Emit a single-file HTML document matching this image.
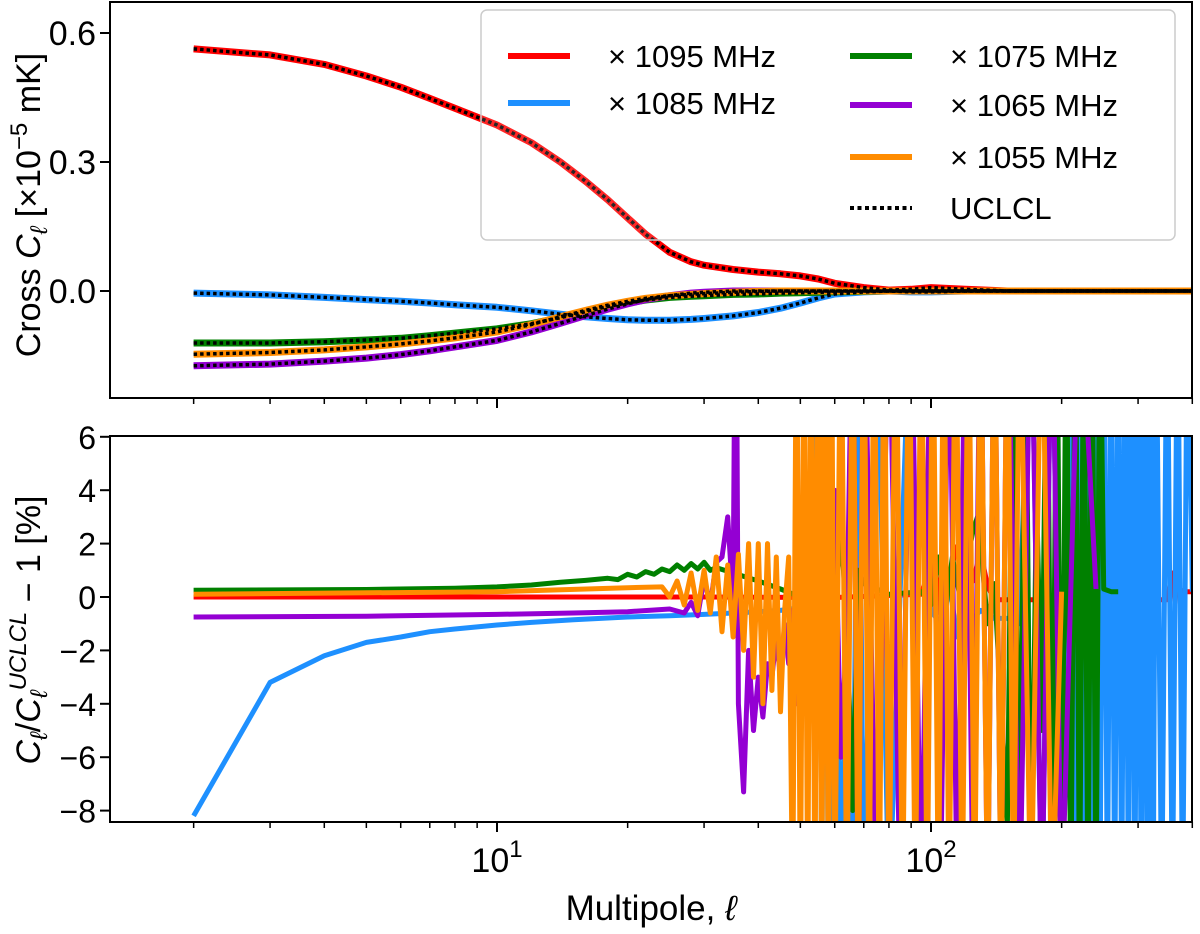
<!DOCTYPE html>
<html><head><meta charset="utf-8"><style>
body{margin:0;background:#fff;}
svg{display:block;font-family:"Liberation Sans","DejaVu Sans",sans-serif;}
</style></head><body>
<svg id="c" width="1200" height="934" viewBox="0 0 1200 934">
<defs>
<clipPath id="clipT"><rect x="110" y="2" width="1082" height="396"/></clipPath>
<clipPath id="clipB"><rect x="110" y="436" width="1082" height="386"/></clipPath>
</defs>
<g id="top" clip-path="url(#clipT)"></g>
<g id="bot" clip-path="url(#clipB)"></g>
<g id="axes"></g>
</svg>
<script>
// ---------- top panel data (units of 1e-5 mK) ----------
const topEll = [2,3,4,5,6,7,8,10,12,14,16,18,20,22,25,28,30,35,40,45,50,55,60,70,80,90,100,120,150,200,300,400];
const topRed = [0.563,0.549,0.527,0.50,0.474,0.448,0.425,0.386,0.345,0.300,0.255,0.212,0.170,0.132,0.090,0.068,0.060,0.050,0.044,0.040,0.035,0.028,0.018,0.008,0.002,0.004,0.008,0.004,0.0,0.0,0.0,0.0];
const topBlue = [-0.005,-0.009,-0.015,-0.02,-0.024,-0.028,-0.032,-0.038,-0.046,-0.054,-0.060,-0.064,-0.067,-0.068,-0.068,-0.066,-0.064,-0.058,-0.050,-0.040,-0.028,-0.016,-0.007,-0.002,0.0,-0.002,-0.002,0.0,0.0,0.0,0.0,0.0];
const topGreen = [-0.121,-0.121,-0.118,-0.114,-0.110,-0.104,-0.098,-0.088,-0.076,-0.062,-0.048,-0.036,-0.028,-0.021,-0.015,-0.012,-0.011,-0.008,-0.007,-0.005,-0.004,-0.003,-0.002,-0.001,0.0,0.0,0.0,0.0,0.0,0.0,0.0,0.0];
const topPurple = [-0.174,-0.170,-0.163,-0.156,-0.148,-0.139,-0.130,-0.115,-0.095,-0.075,-0.057,-0.042,-0.030,-0.020,-0.011,-0.005,-0.003,0.0,0.0,0.0,0.0,0.0,0.0,0.0,0.0,0.0,0.0,0.0,0.0,0.0,0.0,0.0];
const topOrange = [-0.147,-0.143,-0.137,-0.130,-0.123,-0.116,-0.109,-0.095,-0.078,-0.060,-0.045,-0.033,-0.024,-0.017,-0.011,-0.008,-0.006,-0.003,-0.001,0.0,0.0,0.0,0.0,0.0,0.0,0.0,0.0,0.0,0.0,0.0,0.0,0.0];
const topTicks = [0.0,0.3,0.6];
const topTickLabels = ["0.0","0.3","0.6"];

// ---------- bottom panel data (percent) ----------
const redEll = [2,10,30,60,95,100,103,106,110,115,120,125,130,135,140,150,160,350,360,365,370,375,380,400];
const redVal = [0.0,0.0,0.0,-0.02,0.1,1.3,-0.6,1.2,0.8,1.9,1.4,0.6,1.7,0.4,-0.1,-0.1,-0.1,-0.1,0.9,-0.2,0.9,0.3,0.2,0.2];
const blueEll = [2,3,4,5,6,7,8,10,12,15,20,25,30,35,40,45,50,52,54,55,56,57,58,60,62,64,66,68,70,75,80,90,100,105,110,115,120,125,130,140,150,160,170,180,190,200,210,215,220,225,230,235,240,245,250,255,260,265,270,275,280,285,290,295,300,305,310,315,320,325,330,340,350,360,370,380,390,400];
const blueVal = [-8.2,-3.2,-2.2,-1.7,-1.5,-1.3,-1.2,-1.05,-0.95,-0.85,-0.75,-0.7,-0.65,-0.6,-0.55,-0.5,-0.4,4.0,-3,12,-12,12,-12,-1,-9,-3,-12,12,-12,12,-12,12,-0.5,-1,0.5,-1.5,-0.6,-0.8,-0.5,-0.8,-0.8,-1,12,-12,12,-12,12,-12,12,-12,12,-12,12,-12,12,-12,12,-12,12,-12,12,-12,12,-12,12,-12,12,-12,12,-12,12,-12,12,-12,12,-12,12,0.2];
const greenEll = [2,5,8,10,12,14,16,18,19,20,21,22,23,24,25,26,27,28,29,30,31,32,35,40,45,50,55,60,62,64,66,68,70,80,95,100,104,108,112,116,120,125,128,130,132,135,140,150,155,160,165,170,175,180,185,190,195,200,205,210,215,220,225,230,235,240,245,250,260,270];
const greenVal = [0.25,0.28,0.33,0.38,0.45,0.55,0.62,0.7,0.65,0.85,0.75,0.95,0.85,1.05,0.95,1.2,1.0,1.25,1.05,1.3,1.0,1.1,0.9,0.6,0.3,0.0,-0.2,-0.5,2.5,-1,-8,1,0.5,0.1,0.2,-0.3,1.5,-0.5,1.5,0.2,1.0,2.5,3.0,2.5,0.8,-1.0,0.5,-8.5,12,-12,12,-12,4,-5,12,-12,12,-12,12,-12,12,-12,12,-12,12,-12,12,0.3,0.2,0.2];
const purpleEll = [2,5,10,15,20,25,27,28,29,30,31,32,33,34,35,35.5,36,37,38,39,40,41,42,43,44,45,46,47,48,49,50,52,54,56,58,60,62,64,66,68,70,75,80,85,90,95,100,105,110,115,120,125,130,135,140,145,150,160,170,180,190,200,220,240];
const purpleVal = [-0.75,-0.72,-0.65,-0.6,-0.55,-0.45,-0.6,-0.2,-0.7,0.7,-0.3,1.3,1.5,3.0,-0.2,15,-4,-7.3,-2,-5,-3,-4.5,-2.5,-3,-1.5,-3,-1,-2.5,-0.5,-4,2,-3,-4,5,-5,4,-6,-1,12,-12,12,-12,12,-12,12,-12,12,-12,12,-12,12,-12,12,-12,12,-12,12,-12,12,-12,12,-12,12,0.3];
const orangeEll = [2,10,20,24,25,26,27,28,29,30,31,32,33,34,35,36,37,38,39,40,41,42,43,44,45,46,47,48,49,50,51,52,53,54,55,56,57,58,59,60,62,64,66,68,70,72,74,76,78,80,83,86,89,92,95,98,101,104,107,110,114,118,122,126,130,135,140,145,150,155,160,170,180,190,200];
const orangeVal = [0.1,0.2,0.35,0.38,0.0,0.6,-0.3,0.9,-0.5,1.0,-0.6,1.5,-1.3,1.2,-1.5,1.6,-2.0,2.0,-3.0,2.0,-4.0,2.0,-3.5,1.5,-4.3,-0.5,1.5,-12,12,-12,12,-12,12,-12,12,-12,12,-12,12,-12,12,-12,12,-12,12,-12,12,-12,12,-12,12,-12,12,-12,12,-12,12,-12,12,-12,12,-12,12,-12,12,-12,12,-12,12,-12,12,-12,12,-12,0.2];
const botTicks = [-8,-6,-4,-2,0,2,4,6];
const botTickLabels = ["−8","−6","−4","−2","0","2","4","6"];

// ---------- scales ----------
const X0 = 110, X1 = 1192;
const sx = l => 497 + (Math.log10(l) - 1) * 434;
const syT = v => 291 - v * 430;
const syB = v => 597 - v * 26.7;
const NS = "http://www.w3.org/2000/svg";
function mk(tag, attrs, parent) {
  const e = document.createElementNS(NS, tag);
  for (const k in attrs) e.setAttribute(k, attrs[k]);
  parent.appendChild(e);
  return e;
}
function pathD(ell, vals, sy) {
  return ell.map((l, i) => (i ? "L" : "M") + sx(l).toFixed(1) + "," + sy(vals[i]).toFixed(1)).join("");
}
const gT = document.getElementById("top"), gB = document.getElementById("bot"), gA = document.getElementById("axes");

const topSeries = [["red","#ff0000",topRed],["blue","#1e90ff",topBlue],["green","#008000",topGreen],["purple","#9400d3",topPurple],["orange","#ff8c00",topOrange]];
topSeries.forEach(s => {
  const p = mk("path", {d: pathD(topEll, s[2], syT), fill: "none", stroke: s[1], "stroke-width": 7, "stroke-linejoin": "round"}, gT);
  
  
});
topSeries.forEach(s => {
  const p = mk("path", {d: pathD(topEll, s[2], syT), fill: "none", stroke: "#000", "stroke-width": 3.5, "stroke-dasharray": "3.5,3"}, gT);
  
  
});

const botSeries = [["red","#ff0000",redEll,redVal],["blue","#1e90ff",blueEll,blueVal],["green","#008000",greenEll,greenVal],["purple","#9400d3",purpleEll,purpleVal],["orange","#ff8c00",orangeEll,orangeVal]];
botSeries.forEach(s => {
  const p = mk("path", {d: pathD(s[2], s[3], syB), fill: "none", stroke: s[1], "stroke-width": 5, "stroke-linejoin": "round"}, gB);
  
  
});

// ---------- axes ----------
[[2,398],[436,822]].forEach((r, idx) => {
  const f = mk("rect", {x: X0, y: r[0], width: X1 - X0, height: r[1] - r[0], fill: "none", stroke: "#000", "stroke-width": 2}, gA);
  
  
  for (let d = 1; d <= 100; d *= 10) for (let m = 1; m <= 9; m++) {
    const l = d * m; if (l < 1.3 || l > 400) continue;
    const major = m === 1;
    const t = mk("line", {x1: sx(l), x2: sx(l), y1: r[1], y2: r[1] + (major ? 10 : 6), stroke: "#000", "stroke-width": major ? 2 : 1.5}, gA);
    
    
  }
});
topTicks.forEach((v, i) => {
  const t = mk("line", {x1: X0 - 10, x2: X0, y1: syT(v), y2: syT(v), stroke: "#000", "stroke-width": 2}, gA);
  
  
  const tx = mk("text", {x: X0 - 14, y: syT(v) + 12, "text-anchor": "end", "font-size": 34}, gA);
  tx.textContent = topTickLabels[i];
  
  
});
botTicks.forEach((v, i) => {
  const t = mk("line", {x1: X0 - 10, x2: X0, y1: syB(v), y2: syB(v), stroke: "#000", "stroke-width": 2}, gA);
  
  
  const tx = mk("text", {x: X0 - 14, y: syB(v) + 12, "text-anchor": "end", "font-size": 32}, gA);
  tx.textContent = botTickLabels[i];
  
  
});
</script>
<svg width="1200" height="934" style="position:absolute;left:0;top:0">
<g font-family="Liberation Sans, DejaVu Sans, sans-serif" fill="#000">
<text x="497" y="872" font-size="34" text-anchor="middle">10<tspan dy="-15" font-size="24">1</tspan></text>
<text x="931" y="872" font-size="34" text-anchor="middle">10<tspan dy="-15" font-size="24">2</tspan></text>
<text x="651" y="920" font-size="35" text-anchor="middle">Multipole, <tspan font-style="italic">ℓ</tspan></text>
<text transform="translate(40,205) rotate(-90)" font-size="34" text-anchor="middle">Cross <tspan font-style="italic">C</tspan><tspan font-style="italic" font-size="24" dy="7">ℓ</tspan><tspan dy="-7"> [×10</tspan><tspan font-size="24" dy="-13">−5</tspan><tspan dy="13"> mK]</tspan></text>
<text transform="translate(40,630) rotate(-90)" font-size="34" text-anchor="middle"><tspan font-style="italic">C</tspan><tspan font-style="italic" font-size="24" dy="7">ℓ</tspan><tspan dy="-7">/</tspan><tspan font-style="italic">C</tspan><tspan font-style="italic" font-size="24" dy="7">ℓ</tspan><tspan font-style="italic" font-size="24" dy="-21">UCLCL</tspan><tspan dy="14"> − 1 [%]</tspan></text>
<g>
<rect x="481" y="10" width="694" height="230" rx="6" fill="#fff" fill-opacity="0.15" stroke="#ccc" stroke-width="1.5"/>
<line x1="508" x2="570" y1="56" y2="56" stroke="#ff0000" stroke-width="6"/>
<text x="608" y="67" font-size="31">× 1095 MHz</text>
<line x1="508" x2="570" y1="103" y2="103" stroke="#1e90ff" stroke-width="6"/>
<text x="608" y="114" font-size="31">× 1085 MHz</text>
<line x1="850" x2="912" y1="56" y2="56" stroke="#008000" stroke-width="6"/>
<text x="950" y="67" font-size="31">× 1075 MHz</text>
<line x1="850" x2="912" y1="105" y2="105" stroke="#9400d3" stroke-width="6"/>
<text x="950" y="116" font-size="31">× 1065 MHz</text>
<line x1="850" x2="912" y1="157" y2="157" stroke="#ff8c00" stroke-width="6"/>
<text x="950" y="168" font-size="31">× 1055 MHz</text>
<line x1="850" x2="912" y1="208" y2="208" stroke="#000" stroke-width="4" stroke-dasharray="4,3.5"/>
<text x="950" y="219" font-size="31">UCLCL</text>
</g>
</g>
</svg>
</body></html>
